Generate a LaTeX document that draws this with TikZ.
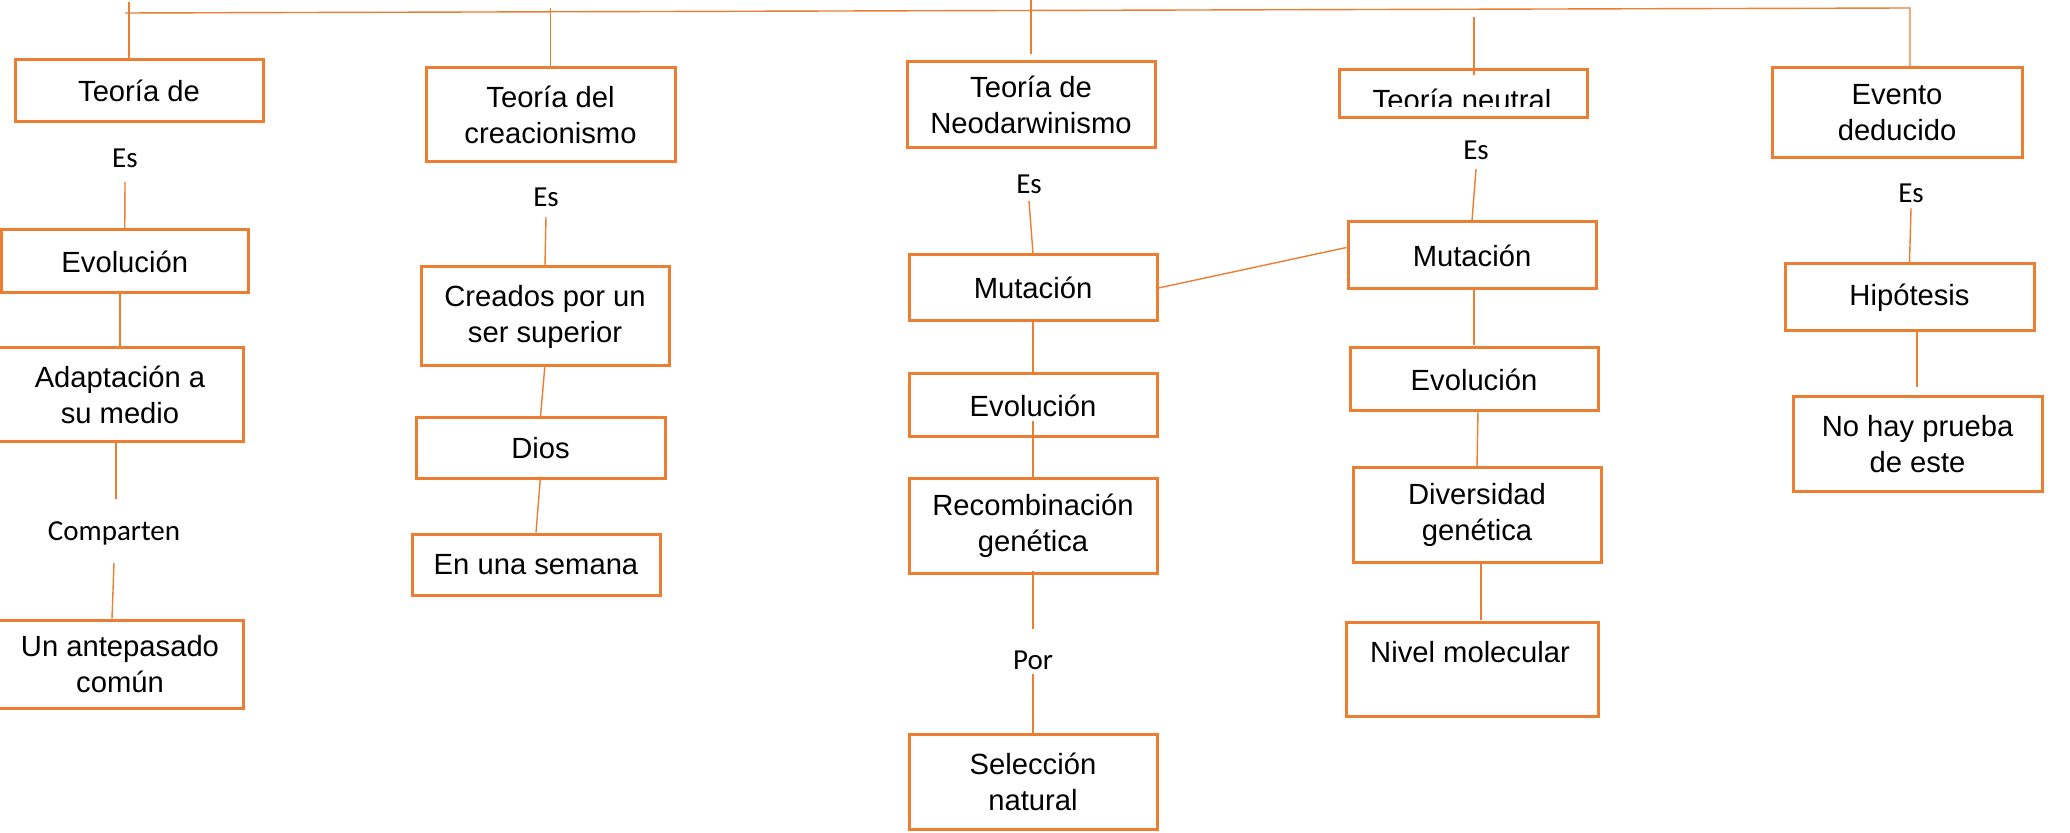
\documentclass[tikz,border=0pt]{standalone}
\usepackage{fontspec}
\setmainfont{Liberation Sans}
\newfontfamily\lblfont{Carlito}
\definecolor{boxorange}{HTML}{ED7D31}
\tikzset{
  box/.style={draw=boxorange, line width=1.5pt, align=center, inner sep=0pt,
    font=\fontsize{14.6}{18}\selectfont},
  boxtext/.style={inner sep=0pt, align=center, font=\fontsize{14.6}{18}\selectfont},
  lbl/.style={inner sep=0pt, font=\lblfont\fontsize{14.5}{17}\selectfont},
  conn/.style={draw=boxorange, line width=0.7pt},
}
\begin{document}
\begin{tikzpicture}[x=0.5pt,y=-0.5pt]
\useasboundingbox (0,0) rectangle (2070,833);

% ---------- column 1 ----------
\node[box, minimum width=124pt, minimum height=31pt] (t1) at (139,91) {Teoría de};
\node[lbl] (es1) at (125,158) {Es};
\node[box, minimum width=123.25pt, minimum height=31.5pt] (ev1) at (124.75,261.5) {Evolución};
\node[box, minimum width=123pt, minimum height=47pt] (ad1) at (120,395) {Adaptación a\\su medio};
\node[lbl] (co1) at (114,533) {Comparten};
\node[box, minimum width=123pt, minimum height=44pt] (un1) at (120,664) {Un antepasado\\común};

% ---------- column 2 ----------
\node[box, minimum width=124.5pt, minimum height=47pt] (t2) at (550.5,115) {Teoría del\\creacionismo};
\node[lbl] (es2) at (546,197) {Es};
\node[box, minimum width=124pt, minimum height=49.5pt] (cr2) at (545,316.5) {Creados por un\\ser superior};
\node[box, minimum width=124.5pt, minimum height=30.5pt] (di2) at (540.5,448.5) {Dios};
\node[box, minimum width=124pt, minimum height=30.5pt] (se2) at (536,564.5) {En una semana};

% ---------- column 3 ----------
\node[box, minimum width=124pt, minimum height=43pt] (t3) at (1031,105) {Teoría de\\Neodarwinismo};
\node[lbl] (es3) at (1029,184) {Es};
\node[box, minimum width=124pt, minimum height=33pt] (mu3) at (1033,288) {Mutación};
\node[box, minimum width=124pt, minimum height=31.5pt] (ev3) at (1033,405.5) {Evolución};
\node[box, minimum width=124pt, minimum height=47pt] (rc3) at (1033,526) {Recombinación\\genética};
\node[lbl] (po3) at (1033,660) {Por};
\node[box, minimum width=124pt, minimum height=47.5pt] (sn3) at (1033,781.5) {Selección\\natural};

% ---------- column 4 ----------
\node[box, minimum width=124pt, minimum height=24pt] (t4) at (1463,94) {};
\begin{scope}
  \clip (1339,70) rectangle (1587,107);
  \node[boxtext, anchor=base] (t4t) at (1462,111) {Teoría neutral};
\end{scope}
\node[lbl] (es4) at (1476,150) {Es};
\node[box, minimum width=124pt, minimum height=33.5pt] (mu4) at (1472,255.5) {Mutación};
\node[box, minimum width=124pt, minimum height=31.5pt] (ev4) at (1474,379.5) {Evolución};
\node[box, minimum width=124pt, minimum height=47pt] (dg4) at (1477,515) {Diversidad\\genética};
\node[box, minimum width=126pt, minimum height=47pt] (nm4) at (1472,669) {};
\node[boxtext] (nm4t) at (1470,652) {Nivel molecular};

% ---------- column 5 ----------
\node[box, minimum width=125pt, minimum height=45pt] (t5) at (1897,113) {Evento\\deducido};
\node[lbl] (es5) at (1911,193) {Es};
\node[box, minimum width=124.5pt, minimum height=33.5pt] (hy5) at (1909.5,297.5) {Hipótesis};
\node[box, minimum width=124.5pt, minimum height=47.5pt] (np5) at (1917.5,444.5) {No hay prueba\\de este};

% ---------- top bar ----------
\coordinate (TL) at (125,13);
\coordinate (TR) at (1910,8);
\draw[conn] (TL) -- (TR) -- (TR |- t5.north);

% ---------- connectors column 1 ----------
\draw[conn] ([xshift=-5pt]t1.north) ++(0,2) -- ++(0,-58);
\draw[conn] ([yshift=-12pt]es1.center) -- (ev1.north);
\draw[conn] (ev1.south -| ad1.north) -- (ad1.north);
\draw[conn] ([xshift=-2pt]ad1.south) -- ++(0,56);
\draw[conn] ([yshift=-15pt]co1.center) -- ([xshift=-4pt]un1.north);

% ---------- connectors column 2 ----------
\draw[conn] (t2.north) -- ++(0,-58);
\draw[conn] ([yshift=-10pt]es2.center) -- (cr2.north);
\draw[conn] ([yshift=1.5pt]cr2.south) -- (di2.north);
\draw[conn] ([yshift=2pt]di2.south) -- (se2.north);

% ---------- connectors column 3 ----------
\draw[conn] ([yshift=3pt]t3.north) -- ++(0,-60);
\draw[conn] ([yshift=-8.5pt]es3.center) -- (mu3.north);
\draw[conn] (mu3.east) -- ([yshift=4pt]mu4.west);
\draw[conn] (mu3.south) -- (ev3.north);
\draw[conn] ([yshift=-7.75pt]ev3.center) -- (rc3.north);
\draw[conn] ([yshift=2pt]rc3.south) -- ++(0,58);
\draw[conn] ([yshift=-7pt]po3.center) -- (sn3.north);

% ---------- connectors column 4 ----------
\draw[conn] ([xshift=5.5pt,yshift=-3.5pt]t4.north) -- ++(0,-58);
\draw[conn] ([yshift=-9.5pt]es4.center) -- (mu4.north);
\draw[conn] ([xshift=1pt,yshift=1pt]mu4.south) -- ++(0,57);
\draw[conn] ([xshift=2pt,yshift=1.5pt]ev4.south) -- (dg4.north);
\draw[conn] ([xshift=2pt,yshift=1pt]dg4.south) -- ++(0,58);

% ---------- connectors column 5 ----------
\draw[conn] ([yshift=-7.5pt]es5.center) -- (hy5.north);
\draw[conn] ([xshift=3.75pt,yshift=1.5pt]hy5.south) -- ++(0,58);
\end{tikzpicture}
\end{document}
